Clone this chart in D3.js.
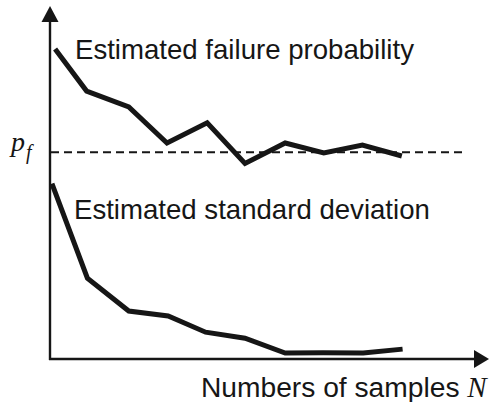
<!DOCTYPE html>
<html>
<head>
<meta charset="utf-8">
<script src="https://cdn.jsdelivr.net/npm/d3@7"></script>
<style>
  html, body { margin: 0; padding: 0; background: #fff; }
  svg { display: block; }
</style>
</head>
<body>
<svg id="chart" width="489" height="402"></svg>
<script>
// ---- data (arbitrary units) ----
const probN   = [0.18, 0.98, 2.05, 3.02, 4.04, 5.0, 6.02, 7.0, 7.98, 8.98];
const probVal = [87.8, 75.9, 71.4, 61.2, 66.9, 55.4, 61.2, 58.4, 60.6, 57.5];
const sdN     = [0.1, 1.0, 2.05, 3.05, 4.0, 5.0, 6.02, 6.98, 8.0, 9.0];
const sdVal   = [49.7, 22.9, 13.6, 12.2, 7.6, 5.9, 1.7, 1.8, 1.7, 2.8];
const pfValue = 58.6;
const labels = {
  prob: "Estimated failure probability",
  sd: "Estimated standard deviation",
  xAxis: "Numbers of samples ",
  xVar: "N",
  pf: "p",
  pfSub: "f"
};

const ink = "#161616";
const svg = d3.select("#chart");

const x = d3.scaleLinear().domain([0, 10]).range([48, 442]);
const y = d3.scaleLinear().domain([0, 100]).range([359, 6]);

const axisX = 50;          // y-axis position (pixels)
const axisY = y(0);        // x-axis position

// axes
svg.append("line")
  .attr("x1", axisX).attr("x2", axisX)
  .attr("y1", axisY + 1).attr("y2", y(100) + 14)
  .attr("stroke", ink).attr("stroke-width", 2.4);
svg.append("path")
  .attr("d", `M${axisX},${y(100)} L${axisX - 8.5},${y(100) + 16} L${axisX + 8.5},${y(100) + 16} Z`)
  .attr("fill", ink);

svg.append("line")
  .attr("x1", axisX - 1).attr("x2", 478)
  .attr("y1", axisY).attr("y2", axisY)
  .attr("stroke", ink).attr("stroke-width", 2.4);
svg.append("path")
  .attr("d", `M489,${axisY} L474,${axisY - 9} L474,${axisY + 9} Z`)
  .attr("fill", ink);

// dashed p_f line
svg.append("line")
  .attr("x1", axisX + 1).attr("x2", 464)
  .attr("y1", y(pfValue)).attr("y2", y(pfValue))
  .attr("stroke", ink).attr("stroke-width", 2)
  .attr("stroke-dasharray", "8,5");

const line = d3.line().x(d => x(d[0])).y(d => y(d[1]));

svg.append("path")
  .datum(d3.zip(probN, probVal))
  .attr("d", line)
  .attr("fill", "none").attr("stroke", ink)
  .attr("stroke-width", 5).attr("stroke-linejoin", "miter");

svg.append("path")
  .datum(d3.zip(sdN, sdVal))
  .attr("d", line)
  .attr("fill", "none").attr("stroke", ink)
  .attr("stroke-width", 5).attr("stroke-linejoin", "miter");

// texts
const sans = "'Liberation Sans', Arial, sans-serif";
const serif = "'Liberation Serif', 'Times New Roman', serif";

svg.append("text")
  .attr("x", 75).attr("y", 59)
  .attr("font-family", sans).attr("font-size", 27.6).attr("fill", ink)
  .text(labels.prob);

svg.append("text")
  .attr("x", 74).attr("y", 219)
  .attr("font-family", sans).attr("font-size", 27.6).attr("fill", ink)
  .text(labels.sd);

const xt = svg.append("text")
  .attr("x", 201).attr("y", 397)
  .attr("font-family", sans).attr("font-size", 28.2).attr("fill", ink)
  .attr("xml:space", "preserve");
xt.append("tspan").text(labels.xAxis);
xt.append("tspan").attr("font-family", serif).attr("font-style", "italic")
  .attr("font-size", 29).text(labels.xVar);

svg.append("text")
  .attr("x", 11).attr("y", 151)
  .attr("font-family", serif).attr("font-style", "italic")
  .attr("font-size", 28).attr("fill", ink)
  .text(labels.pf);
svg.append("text")
  .attr("x", 26).attr("y", 159)
  .attr("font-family", serif).attr("font-style", "italic")
  .attr("font-size", 20).attr("fill", ink)
  .text(labels.pfSub);
</script>
</body>
</html>
